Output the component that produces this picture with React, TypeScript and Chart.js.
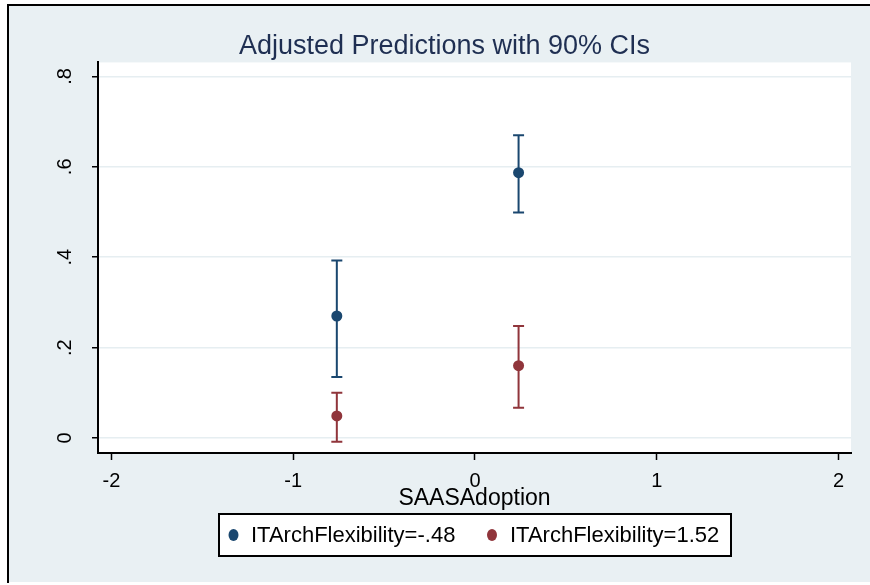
import React, { useEffect, useRef } from "react";
import { Chart, registerables } from "chart.js";

Chart.register(...registerables);

// ---- data ----
const saasAdoption = [-0.76, 0.24];
const seriesLabels = ["ITArchFlexibility=-.48", "ITArchFlexibility=1.52"];
const predLowFlex = [0.27, 0.587];
const lowerLowFlex = [0.135, 0.499];
const upperLowFlex = [0.393, 0.67];
const predHighFlex = [0.049, 0.16];
const lowerHighFlex = [-0.008, 0.067];
const upperHighFlex = [0.1, 0.248];
const xTicks = [-2, -1, 0, 1, 2];
const yTicks = [0, 0.2, 0.4, 0.6, 0.8];
const titleText = "Adjusted Predictions with 90% CIs";
const xTitle = "SAASAdoption";

const BLUE = "#1a476f";
const RED = "#90353b";
const BG = "#e9f0f3";
const FONT = "'Liberation Sans', Arial, Helvetica, sans-serif";

const fmtY = (v: number) => {
  if (Math.abs(v) < 1e-9) return "0";
  return String(+v.toFixed(1)).replace(/^0\./, ".").replace(/^-0\./, "-.");
};

const backgroundPlugin = {
  id: "stataBackground",
  beforeDraw(chart: any) {
    const { ctx, chartArea } = chart;
    ctx.save();
    ctx.fillStyle = "#ffffff";
    ctx.fillRect(0, 0, chart.width, chart.height);
    ctx.fillStyle = BG;
    ctx.fillRect(9, 6, chart.width - 9, 576);
    ctx.fillStyle = "#000";
    ctx.fillRect(7, 4, chart.width - 7, 2);
    ctx.fillRect(7, 4, 2, 579);
    ctx.fillStyle = "#ffffff";
    ctx.fillRect(
      chartArea.left - 1,
      chartArea.top,
      chartArea.right - chartArea.left + 1,
      chartArea.bottom - chartArea.top
    );
    ctx.restore();
  },
};

const errorBarPlugin = {
  id: "errorBars",
  beforeDatasetsDraw(chart: any) {
    const { ctx, scales } = chart;
    const xs = scales.x;
    const ys = scales.y;
    chart.data.datasets.forEach((ds: any) => {
      ctx.save();
      ctx.strokeStyle = ds.backgroundColor;
      ctx.lineWidth = 2;
      ds.lowerCI.forEach((lo: number, i: number) => {
        const hi = ds.upperCI[i];
        const px = xs.getPixelForValue(ds.data[i].x);
        const pLo = ys.getPixelForValue(lo);
        const pHi = ys.getPixelForValue(hi);
        ctx.beginPath();
        ctx.moveTo(px, pLo);
        ctx.lineTo(px, pHi);
        ctx.moveTo(px - 5.5, pLo);
        ctx.lineTo(px + 5.5, pLo);
        ctx.moveTo(px - 5.5, pHi);
        ctx.lineTo(px + 5.5, pHi);
        ctx.stroke();
      });
      ctx.restore();
    });
  },
};

const legendBoxPlugin = {
  id: "legendBox",
  afterDraw(chart: any) {
    const { ctx } = chart;
    const boxL = 219, boxT = 514, boxR = 731, boxB = 556;
    ctx.save();
    ctx.fillStyle = "#fff";
    ctx.fillRect(boxL, boxT, boxR - boxL, boxB - boxT);
    ctx.strokeStyle = "#000";
    ctx.lineWidth = 2;
    ctx.strokeRect(boxL, boxT, boxR - boxL, boxB - boxT);
    const items = [
      { dot: 233.5, text: 251 },
      { dot: 492, text: 510 },
    ];
    ctx.font = `22px ${FONT}`;
    ctx.textBaseline = "middle";
    ctx.textAlign = "left";
    chart.data.datasets.forEach((ds: any, i: number) => {
      const it = items[i];
      const cy = (boxT + boxB) / 2;
      ctx.fillStyle = ds.backgroundColor;
      ctx.beginPath();
      ctx.ellipse(it.dot, cy, 5, 6, 0, 0, Math.PI * 2);
      ctx.fill();
      ctx.fillStyle = "#000";
      ctx.fillText(ds.label, it.text, cy + 1);
    });
    ctx.restore();
  },
};

export default function App() {
  const ref = useRef<HTMLCanvasElement>(null);
  useEffect(() => {
    if (!ref.current) return;
    const chart = new Chart(ref.current, {
      type: "scatter",
      data: {
        datasets: [
          {
            label: seriesLabels[0],
            data: saasAdoption.map((x, i) => ({ x, y: predLowFlex[i] })),
            lowerCI: lowerLowFlex,
            upperCI: upperLowFlex,
            backgroundColor: BLUE,
            borderColor: BLUE,
            pointRadius: 5.5,
            pointBorderWidth: 0,
          } as any,
          {
            label: seriesLabels[1],
            data: saasAdoption.map((x, i) => ({ x, y: predHighFlex[i] })),
            lowerCI: lowerHighFlex,
            upperCI: upperHighFlex,
            backgroundColor: RED,
            borderColor: RED,
            pointRadius: 5.5,
            pointBorderWidth: 0,
          } as any,
        ],
      },
      options: {
        responsive: false,
        animation: false,
        devicePixelRatio: 1,
        layout: { padding: { left: 38, top: 6, right: 19, bottom: 0 } },
        plugins: {
          legend: { display: false },
          tooltip: { enabled: false },
          title: {
            display: true,
            text: titleText,
            color: "#1f2f52",
            font: { family: FONT, size: 27, weight: "normal" },
            padding: { top: 24, bottom: 0 },
          },
        },
        scales: {
          x: {
            type: "linear",
            min: -2.074,
            max: 2.069,
            afterFit: (s: any) => {
              s.height = 132;
            },
            afterBuildTicks: (s: any) => {
              s.ticks = xTicks.map((v) => ({ value: v }));
            },
            ticks: {
              color: "#000",
              font: { family: FONT, size: 20 },
              padding: 9,
              maxRotation: 0,
              callback: (v: any) => String(v),
            },
            grid: {
              display: true,
              drawOnChartArea: false,
              drawTicks: true,
              tickLength: 7,
              tickColor: "#000",
              tickWidth: 1.5,
            },
            border: { display: true, color: "#000", width: 2 },
            title: {
              display: true,
              text: xTitle,
              color: "#000",
              font: { family: FONT, size: 23 },
              padding: { top: 0, bottom: 73 },
            },
          },
          y: {
            type: "linear",
            min: -0.0331,
            max: 0.831,
            afterFit: (s: any) => {
              s.width = 60;
            },
            afterBuildTicks: (s: any) => {
              s.ticks = yTicks.map((v) => ({ value: v }));
            },
            ticks: {
              color: "#000",
              font: { family: FONT, size: 20 },
              minRotation: 90,
              maxRotation: 90,
              crossAlign: "center",
              padding: 18,
              callback: (v: any) => fmtY(Number(v)),
            },
            grid: {
              display: true,
              color: "#e6eef1",
              lineWidth: 1.5,
              drawTicks: true,
              tickLength: 6,
              tickColor: "#000",
              tickWidth: 1.5,
            },
            border: { display: true, color: "#000", width: 2 },
          },
        },
      },
      plugins: [backgroundPlugin, errorBarPlugin, legendBoxPlugin],
    });
    return () => chart.destroy();
  }, []);
  return (
    <div style={{ position: "fixed", left: 0, top: 0, width: 870, height: 585 }}>
      <canvas ref={ref} width={870} height={585} style={{ display: "block" }} />
    </div>
  );
}
